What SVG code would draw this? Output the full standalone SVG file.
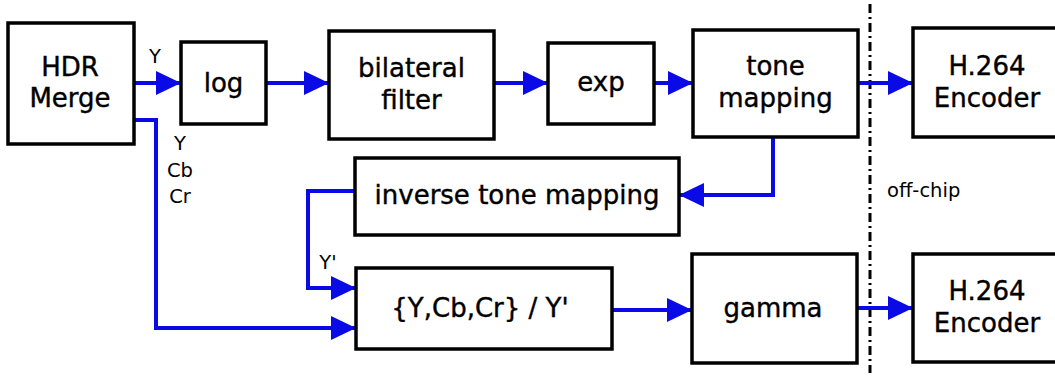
<svg xmlns="http://www.w3.org/2000/svg" width="1055" height="378" viewBox="0 0 1055 378">
<style>
.box{fill:#ffffff;stroke:#000000;stroke-width:3.5}
.t{font-family:"DejaVu Sans","Liberation Sans",sans-serif;font-size:26px;fill:#000;stroke:#000;stroke-width:0.4;text-anchor:middle}
.l{font-family:"DejaVu Sans","Liberation Sans",sans-serif;font-size:19.5px;fill:#000;text-anchor:middle}
.c{fill:none;stroke:#0a0ae6;stroke-width:4;marker-end:url(#ah)}
.sep{stroke:#000;stroke-width:3;stroke-dasharray:9 4 2 4}
</style>
<defs>
<marker id="ah" markerUnits="userSpaceOnUse" markerWidth="25" markerHeight="24" viewBox="0 0 25 24" refX="25" refY="12" orient="auto">
<path d="M0,0 L25,12 L0,24 z" fill="#0a0ae6"/>
</marker>
</defs>
<rect width="1055" height="378" fill="#ffffff"/>
<line class="sep" x1="870" y1="4" x2="870" y2="373"/>
<g id="connectors">
<path class="c" d="M134,83 H181"/>
<path class="c" d="M266,83 H329"/>
<path class="c" d="M494,83 H548"/>
<path class="c" d="M654,83 H693"/>
<path class="c" d="M858,83 H913"/>
<path class="c" d="M773,137 V195 H679"/>
<path class="c" d="M355,191 H308 V288 H356"/>
<path class="c" d="M134,120 H156 V328 H356"/>
<path class="c" d="M612,310 H692"/>
<path class="c" d="M857,308 H913"/>
<text class="l" x="155" y="63">Y</text>
<text class="l" x="180" y="150">Y</text>
<text class="l" x="180" y="177">Cb</text>
<text class="l" x="180" y="203">Cr</text>
<text class="l" x="328" y="269">Y'</text>
</g>
<g id="hdr"><rect class="box" x="8" y="23" width="126" height="121"/><text class="t" x="70" y="76">HDR</text><text class="t" x="70" y="107">Merge</text></g>
<g id="log"><rect class="box" x="181" y="42" width="85" height="82"/><text class="t" x="223.5" y="92">log</text></g>
<g id="bilateral"><rect class="box" x="329" y="31" width="165" height="108"/><text class="t" x="411.5" y="77">bilateral</text><text class="t" x="411.5" y="109">filter</text></g>
<g id="exp"><rect class="box" x="548" y="43" width="106" height="81"/><text class="t" x="601" y="91">exp</text></g>
<g id="tone"><rect class="box" x="693" y="30" width="165" height="107"/><text class="t" x="775.5" y="75">tone</text><text class="t" x="775.5" y="107">mapping</text></g>
<g id="enc1"><rect class="box" x="913" y="28" width="164" height="109"/><text class="t" x="987" y="75">H.264</text><text class="t" x="987" y="107">Encoder</text></g>
<g id="inverse"><rect class="box" x="355" y="158" width="324" height="77"/><text class="t" x="517" y="204">inverse tone mapping</text></g>
<g id="ycbcr"><rect class="box" x="356" y="268" width="256" height="81"/><text class="t" x="480" y="317">{Y,Cb,Cr} / Y'</text></g>
<g id="gamma"><rect class="box" x="692" y="254" width="165" height="109"/><text class="t" x="773" y="317">gamma</text></g>
<g id="enc2"><rect class="box" x="913" y="254" width="164" height="108"/><text class="t" x="987" y="300">H.264</text><text class="t" x="987" y="332">Encoder</text></g>
<text class="l" x="887" y="197" style="text-anchor:start">off-chip</text>
</svg>
